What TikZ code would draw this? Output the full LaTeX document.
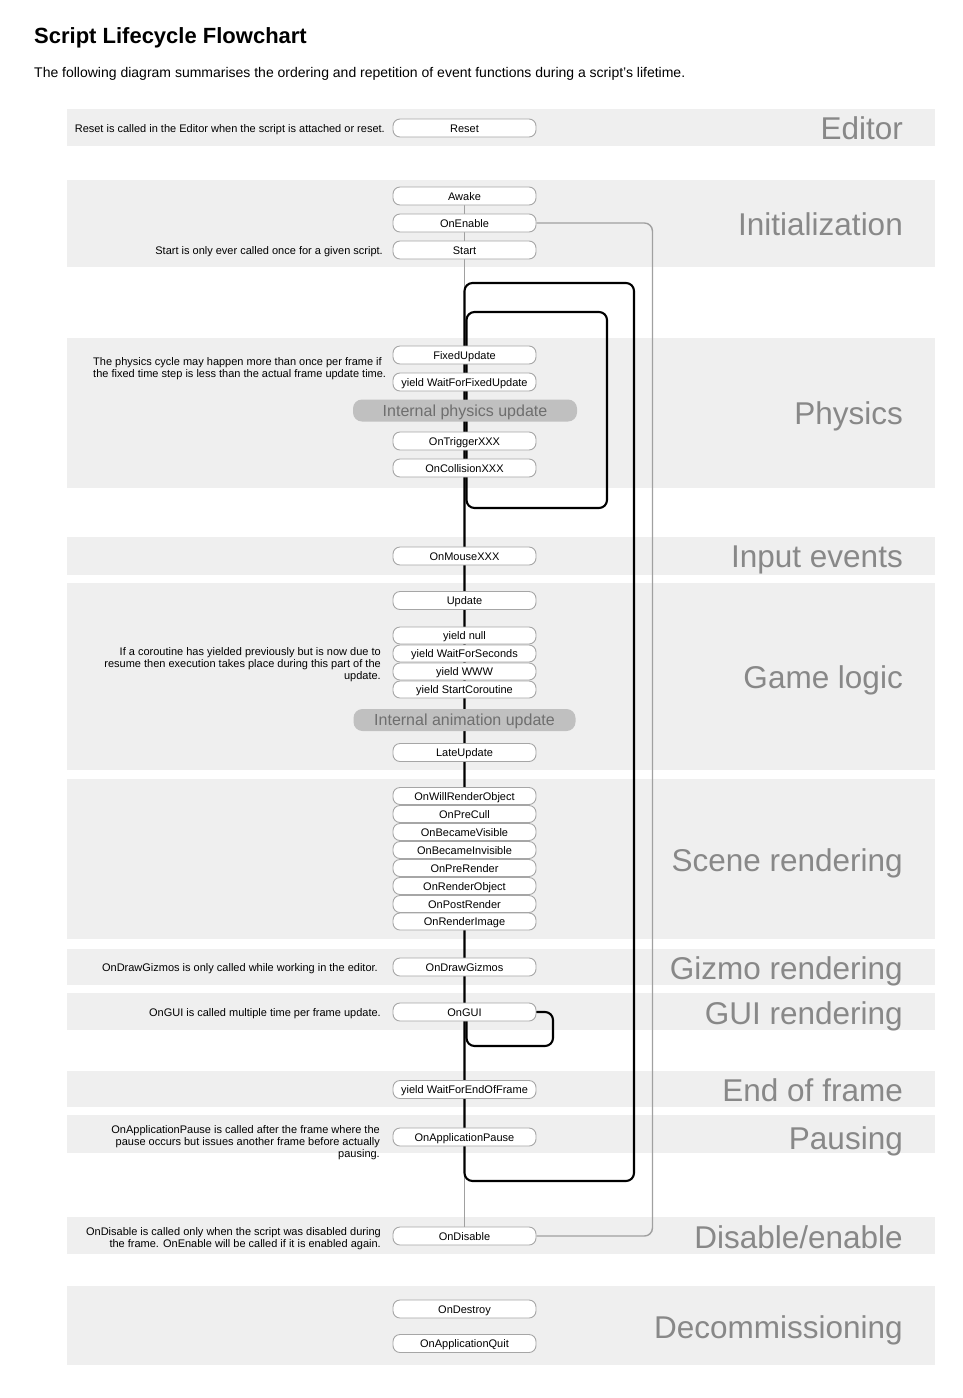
\documentclass[tikz,border=0pt]{standalone}
\usepackage{fontspec}
\setmainfont{Liberation Sans}
\definecolor{bandgray}{HTML}{EFEFEF}
\definecolor{boxborder}{HTML}{A6A6A6}
\definecolor{linegray}{HTML}{A0A0A0}
\definecolor{sectgray}{HTML}{888888}
\definecolor{capsulefill}{HTML}{C0C0C0}
\definecolor{capsuletext}{HTML}{6E6E6E}
\pgfdeclarelayer{bands}
\pgfdeclarelayer{lines}
\pgfsetlayers{bands,lines,main}
\tikzset{
  band/.style={fill=bandgray, draw=none},
  ev/.style={draw=boxborder, fill=white, rounded corners=7pt, minimum width=143pt,
    minimum height=18pt, inner sep=0pt, line width=0.9pt,
    font=\fontsize{11pt}{13pt}\selectfont, text height=9pt, text depth=1pt},
  evs/.style={ev, minimum height=17pt},
  internal/.style={fill=capsulefill, rounded corners=9pt, minimum width=224pt,
    minimum height=22pt, inner sep=0pt, text=capsuletext,
    font=\fontsize{16pt}{18pt}\selectfont, text height=12.5pt, text depth=1.1pt},
  sect/.style={anchor=base east, inner sep=0pt, text=sectgray,
    font=\fontsize{31.5pt}{34pt}\selectfont},
  note/.style={inner sep=0pt, font=\fontsize{11pt}{12.3pt}\selectfont},
  flow/.style={draw=linegray, line width=1.4pt, rounded corners=8pt},
  loopline/.style={draw=black, line width=2.1pt, rounded corners=8pt},
}
\begin{document}
\begin{tikzpicture}[x=1pt,y=-1pt]
\useasboundingbox (0,0) rectangle (963,1398);

% ---- bands
\begin{pgfonlayer}{bands}
\fill[band] (67,109) rectangle (935,146);
\fill[band] (67,180) rectangle (935,267);
\fill[band] (67,338) rectangle (935,488);
\fill[band] (67,537) rectangle (935,575);
\fill[band] (67,583) rectangle (935,770);
\fill[band] (67,779) rectangle (935,939);
\fill[band] (67,949) rectangle (935,985);
\fill[band] (67,993) rectangle (935,1030);
\fill[band] (67,1071) rectangle (935,1107);
\fill[band] (67,1115) rectangle (935,1153);
\fill[band] (67,1217) rectangle (935,1254);
\fill[band] (67,1286) rectangle (935,1365);
\end{pgfonlayer}

% ---- title
\node[anchor=base west, inner sep=0pt, font=\bfseries\fontsize{22pt}{26pt}\selectfont] (title) at (34,43) {Script Lifecycle Flowchart};
\node[anchor=base west, inner sep=0pt, font=\fontsize{14pt}{16pt}\selectfont] (subtitle) at (34,77) {The following diagram summarises the ordering and repetition of event functions during a script's lifetime.};

% ---- section labels
\node[sect] (sEditor) at (903,139) {Editor};
\node[sect] (sInit) at (903,235) {Initialization};
\node[sect] (sPhys) at (903,424) {Physics};
\node[sect] (sInput) at (903,567) {Input events};
\node[sect] (sGame) at (903,688) {Game logic};
\node[sect] (sScene) at (903,871) {Scene rendering};
\node[sect] (sGizmo) at (903,979) {Gizmo rendering};
\node[sect] (sGUI) at (903,1024) {GUI rendering};
\node[sect] (sEnd) at (903,1101) {End of frame};
\node[sect] (sPause) at (903,1149) {Pausing};
\node[sect] (sDisable) at (903,1248) {Disable/enable};
\node[sect] (sDecom) at (903,1338) {Decommissioning};

% ---- notes
\node[note, anchor=base east] (nReset) at (385,132) {Reset is called in the Editor when the script is attached or reset.};
\node[note, anchor=base east] (nStart) at (383,254) {Start is only ever called once for a given script.};
\node[note, anchor=north west, align=left] (nPhys) at (93,357) {The physics cycle may happen more than once per frame if\\the fixed time step is less than the actual frame update time.};
\node[note, anchor=north east, align=right] (nGame) at (381,647) {If a coroutine has yielded previously but is now due to\\resume then execution takes place during this part of the\\update.};
\node[note, anchor=base east] (nGizmo) at (378,971) {OnDrawGizmos is only called while working in the editor.};
\node[note, anchor=base east] (nGUI) at (381,1016) {OnGUI is called multiple time per frame update.};
\node[note, anchor=north east, align=right] (nPause) at (380,1125) {OnApplicationPause is called after the frame where the\\pause occurs but issues another frame before actually\\pausing.};
\node[note, anchor=north east, align=right] (nDisable) at (381,1227) {OnDisable is called only when the script was disabled during\\the frame. OnEnable will be called if it is enabled again.};

% ---- event boxes
\node[ev] (reset) at (464.5,128) {Reset};
\node[ev] (awake) at (464.5,196) {Awake};
\node[ev] (onenable) at (464.5,223) {OnEnable};
\node[ev] (start) at (464.5,250) {Start};
\node[ev] (fixedupdate) at (464.5,355) {FixedUpdate};
\node[ev] (waitfixed) at (464.5,382) {yield WaitForFixedUpdate};
\node[internal] (physint) at (465,410.5) {Internal physics update};
\node[ev] (trigger) at (464.5,441) {OnTriggerXXX};
\node[ev] (collision) at (464.5,468) {OnCollisionXXX};
\node[ev] (mouse) at (464.5,556) {OnMouseXXX};
\node[ev] (update) at (464.5,600.5) {Update};
\node[evs] (ynull) at (464.5,635.5) {yield null};
\node[evs] (yseconds) at (464.5,653.5) {yield WaitForSeconds};
\node[evs] (ywww) at (464.5,671.5) {yield WWW};
\node[evs] (ycoroutine) at (464.5,689.5) {yield StartCoroutine};
\node[internal, minimum width=222pt] (animint) at (464.5,720) {Internal animation update};
\node[ev] (lateupdate) at (464.5,752.5) {LateUpdate};
\node[evs] (willrender) at (464.5,796) {OnWillRenderObject};
\node[evs] (precull) at (464.5,814) {OnPreCull};
\node[evs] (visible) at (464.5,832) {OnBecameVisible};
\node[evs] (invisible) at (464.5,850) {OnBecameInvisible};
\node[evs] (prerender) at (464.5,868) {OnPreRender};
\node[evs] (renderobject) at (464.5,886) {OnRenderObject};
\node[evs] (postrender) at (464.5,904) {OnPostRender};
\node[evs] (renderimage) at (464.5,921.5) {OnRenderImage};
\node[ev] (gizmos) at (464.5,967) {OnDrawGizmos};
\node[ev] (ongui) at (464.5,1012) {OnGUI};
\node[ev] (endframe) at (464.5,1089.5) {yield WaitForEndOfFrame};
\node[ev] (pause) at (464.5,1137) {OnApplicationPause};
\node[ev] (ondisable) at (464.5,1236) {OnDisable};
\node[ev] (ondestroy) at (464.5,1309) {OnDestroy};
\node[ev] (quit) at (464.5,1343.5) {OnApplicationQuit};

% ---- loop corner coordinates
\coordinate (outerTL) at (464.5,283);
\coordinate (outerBR) at (634,1181);
\coordinate (innerTL) at (466.5,312);
\coordinate (innerBR) at (607,508);
\coordinate (guiBR) at (553,1046);

% ---- connectors
\begin{pgfonlayer}{lines}
\draw[flow, rounded corners=0pt] (awake.center) -- (ondisable.center);
\draw[flow] (onenable.east) -- ++(116,0) |- (ondisable.east);
\draw[loopline] (outerTL) rectangle (outerBR);
\draw[loopline] (innerTL) rectangle (innerBR);
\draw[loopline] (ongui.center -| innerTL) rectangle (guiBR);
\end{pgfonlayer}
\end{tikzpicture}
\end{document}
